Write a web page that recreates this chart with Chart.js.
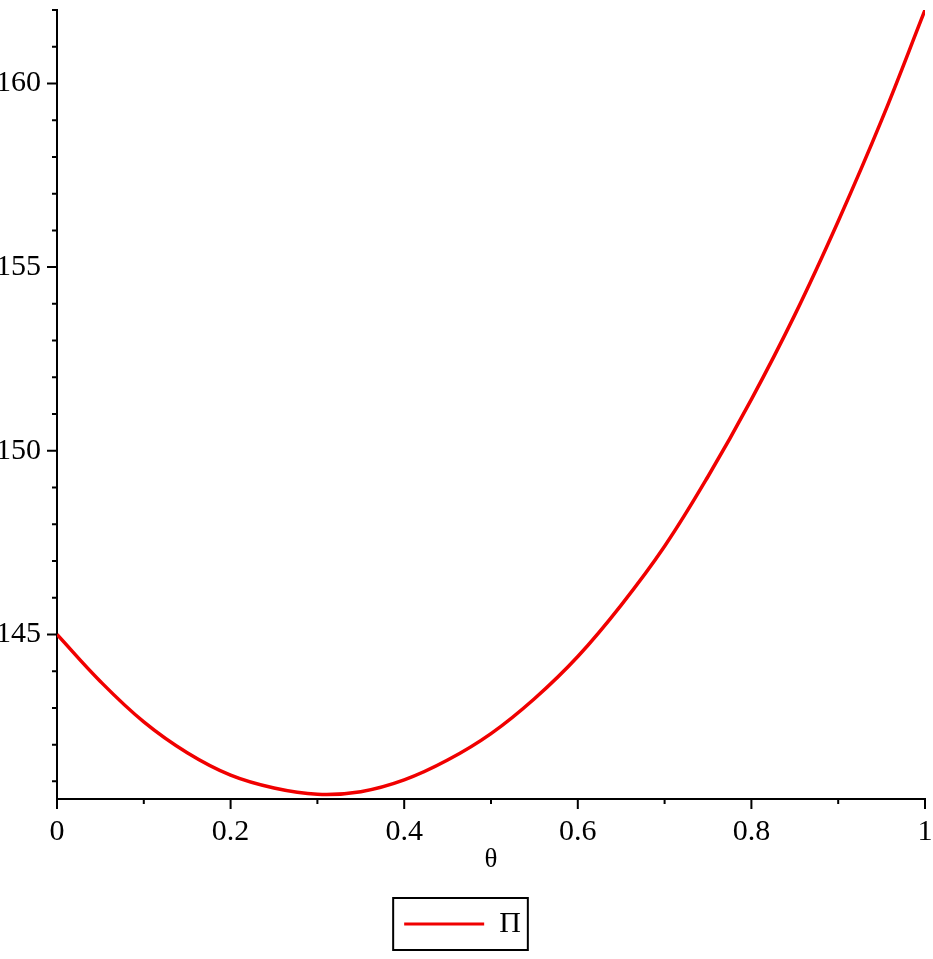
<!DOCTYPE html>
<html>
<head>
<meta charset="utf-8">
<script src="https://cdn.jsdelivr.net/npm/chart.js@4.4.1/dist/chart.umd.min.js"></script>
<style>
  html, body { margin: 0; padding: 0; background: #fff; }
  #wrap { width: 933px; height: 959px; }
</style>
</head>
<body>
<div id="wrap"><canvas id="chart" width="933" height="959"></canvas></div>
<script>
// values
const theta = [0, 0.05, 0.1, 0.15, 0.2, 0.25, 0.3, 0.35, 0.4, 0.45, 0.5,
  0.55, 0.6, 0.65, 0.7, 0.75, 0.8, 0.85, 0.9, 0.95, 1]
const piValues = [145.0, 143.72, 142.62, 141.78, 141.17, 140.82, 140.65, 140.72, 141.04, 141.58, 142.3,
  143.25, 144.4, 145.8, 147.4, 149.3, 151.4, 153.7, 156.25, 159.0, 162.0]

const xTickLabels = [0, 0.2, 0.4, 0.6, 0.8, 1]
const xMinorTicks = [0.1, 0.3, 0.5, 0.7, 0.9]
const yTickLabels = [145, 150, 155, 160]
const yMinorTicks = [141, 142, 143, 144, 146, 147, 148, 149, 151, 152, 153, 154, 156, 157, 158, 159, 161, 162]

const serif = "'Liberation Serif', 'DejaVu Serif', serif"

// Maple-style tick marks drawn outside the axes, plus the legend frame
const axisMarks = {
  id: "axisMarks",
  afterDraw(chart) {
    const ctx = chart.ctx
    const xs = chart.scales.x
    const ys = chart.scales.y
    const area = chart.chartArea
    ctx.save()
    ctx.strokeStyle = "#000"
    ctx.lineWidth = 2
    ctx.beginPath()
    xTickLabels.forEach((v) => {
      const px = xs.getPixelForValue(v)
      ctx.moveTo(px, area.bottom)
      ctx.lineTo(px, area.bottom + 10)
    })
    xMinorTicks.forEach((v) => {
      const px = xs.getPixelForValue(v)
      ctx.moveTo(px, area.bottom)
      ctx.lineTo(px, area.bottom + 5)
    })
    yTickLabels.forEach((v) => {
      const py = ys.getPixelForValue(v)
      ctx.moveTo(area.left, py)
      ctx.lineTo(area.left - 10, py)
    })
    yMinorTicks.forEach((v) => {
      const py = ys.getPixelForValue(v)
      ctx.moveTo(area.left, py)
      ctx.lineTo(area.left - 5, py)
    })
    ctx.stroke()

    const box = chart.legend.legendHitBoxes[0]
    if (box) {
      ctx.strokeRect(box.left - 11, box.top - 11, box.width + 18, box.height + 22)
    }
    ctx.restore()
  },
}

new Chart(document.getElementById("chart"), {
  type: "scatter",
  data: {
    datasets: [
      {
        label: "Π",
        data: theta.map((t, i) => ({ x: t, y: piValues[i] })),
        showLine: true,
        borderColor: "#f00000",
        backgroundColor: "#f00000",
        borderWidth: 3.5,
        pointRadius: 0,
        tension: 0.4,
      },
    ],
  },
  options: {
    responsive: false,
    animation: false,
    layout: { padding: { top: 10, right: 8, left: 0, bottom: 10 } },
    scales: {
      x: {
        type: "linear",
        min: 0,
        max: 1,
        afterBuildTicks: (s) => {
          s.ticks = xTickLabels.map((v) => ({ value: v }))
        },
        afterFit: (s) => {
          s.height = 100
          s.paddingLeft = 0
          s.paddingRight = 0
        },
        grid: { display: false, drawTicks: true, tickLength: 10 },
        border: { display: true, color: "#000", width: 2 },
        ticks: {
          color: "#000",
          padding: 5,
          maxRotation: 0,
          font: { family: serif, size: 30 },
          callback: (v) => String(v),
        },
        title: {
          display: true,
          text: "θ",
          color: "#000",
          font: { family: serif, size: 27 },
          padding: { top: 0, bottom: 23 },
        },
      },
      y: {
        type: "linear",
        min: 140.52,
        max: 162,
        afterBuildTicks: (s) => {
          s.ticks = yTickLabels.map((v) => ({ value: v }))
        },
        afterFit: (s) => {
          s.width = 57
          s.paddingTop = 0
          s.paddingBottom = 0
        },
        grid: { display: false, drawTicks: true, tickLength: 10 },
        border: { display: true, color: "#000", width: 2 },
        ticks: {
          color: "#000",
          padding: 6,
          font: { family: serif, size: 30 },
          callback: (v) => String(v),
        },
      },
    },
    plugins: {
      tooltip: { enabled: false },
      legend: {
        position: "bottom",
        labels: {
          color: "#000",
          boxWidth: 80,
          boxHeight: 3,
          padding: 10,
          font: { family: serif, size: 30 },
          generateLabels: (chart) =>
            Chart.defaults.plugins.legend.labels.generateLabels(chart).map((l) => ({ ...l, lineWidth: 0 })),
        },
      },
    },
  },
  plugins: [axisMarks],
})
</script>
</body>
</html>
